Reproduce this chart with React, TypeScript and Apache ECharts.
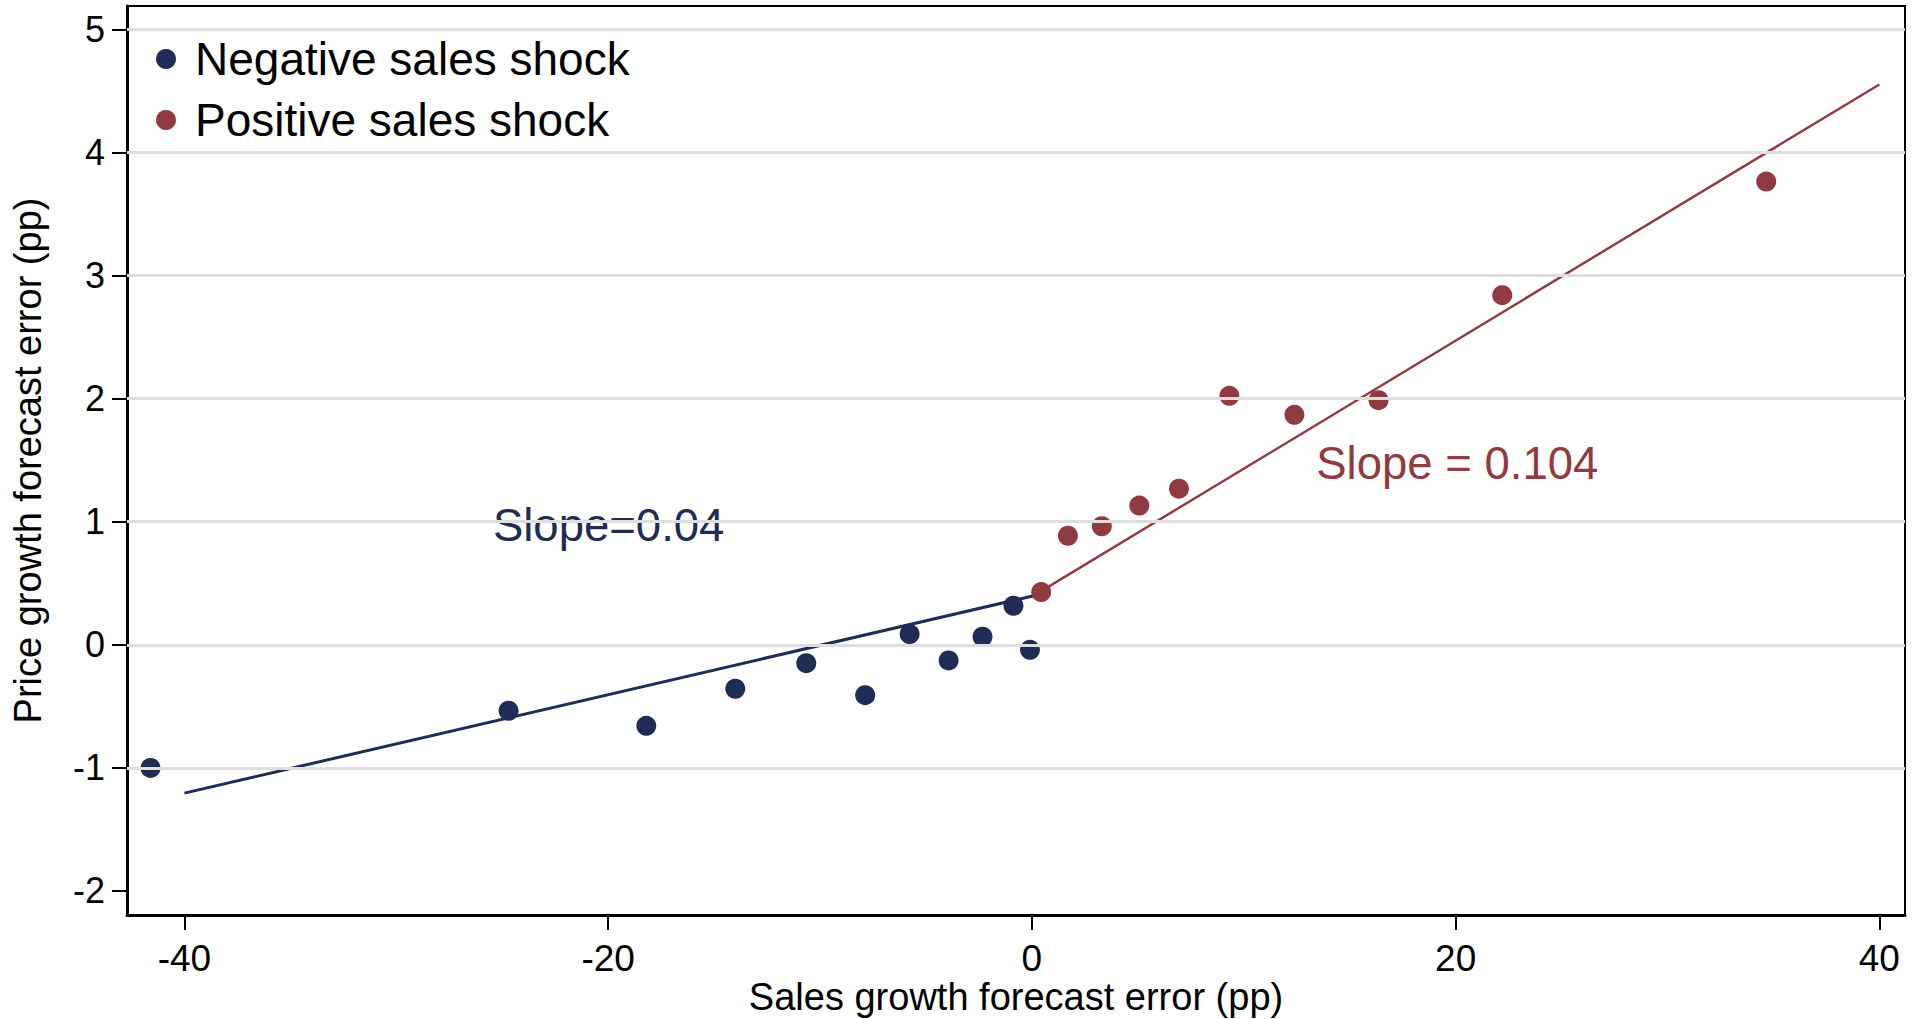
import React, { useEffect, useRef } from "react";
import * as echarts from "echarts";

// ---- data ----
const negX = [-41.6, -24.7, -18.2, -14.0, -10.65, -7.87, -5.77, -3.93, -2.33, -0.87, -0.09];
const negY = [-1.0, -0.536, -0.658, -0.357, -0.149, -0.409, 0.087, -0.127, 0.065, 0.317, -0.041];
const posX = [0.44, 1.7, 3.3, 5.07, 6.94, 9.32, 12.39, 16.36, 22.2, 34.66];
const posY = [0.428, 0.886, 0.963, 1.131, 1.268, 2.022, 1.868, 1.987, 2.84, 3.763];

const negFitX = [-40, 0.1];
const negFitY = [-1.205, 0.399];
const posFitX = [0.44, 40];
const posFitY = [0.436, 4.552];

const xTicks = [-40, -20, 0, 20, 40];
const yTicks = [-2, -1, 0, 1, 2, 3, 4, 5];
const gridValues = [-1, 0, 1, 2, 3, 4, 5];

const X_MIN = -42.71;
const X_MAX = 41.21;
const Y_MIN = -2.195;
const Y_MAX = 5.189;

const annotTexts = ["Slope=0.04", "Slope = 0.104"];
const annotX = [-25.44, 13.42];
const annotY = [0.97, 1.47];

const NAVY = "#1f2c56";
const RED = "#903a41";
const FONT = "'Liberation Sans', Arial, Helvetica, sans-serif";

export default function App() {
  const ref = useRef<HTMLDivElement>(null);

  useEffect(() => {
    document.body.style.margin = "0";
    const chart = echarts.init(ref.current as HTMLDivElement, undefined, { renderer: "svg" });

    const zip = (xs: number[], ys: number[]) => xs.map((x, i) => [x, ys[i]]);

    chart.setOption({
      animation: false,
      backgroundColor: "#ffffff",
      textStyle: { fontFamily: FONT },
      grid: {
        left: 127,
        right: 11,
        top: 6,
        bottom: 104,
        show: true,
        borderColor: "#000",
        borderWidth: 2,
        backgroundColor: "transparent",
        outerBoundsMode: "none",
        containLabel: false,
      },
      xAxis: {
        type: "value",
        min: X_MIN,
        max: X_MAX,
        axisLine: { show: true, onZero: false, lineStyle: { color: "#000", width: 3 } },
        axisTick: { show: true, length: 15, lineStyle: { color: "#000", width: 2 }, customValues: xTicks },
        axisLabel: { customValues: xTicks, fontSize: 37, lineHeight: 30, color: "#000", margin: 28.5, fontFamily: FONT },
        splitLine: { show: false },
        name: "Sales growth forecast error (pp)",
        nameLocation: "middle",
        nameGap: 65,
        nameMoveOverlap: false,
        nameTextStyle: { fontSize: 38, lineHeight: 34, color: "#000", fontFamily: FONT },
      },
      yAxis: {
        type: "value",
        min: Y_MIN,
        max: Y_MAX,
        axisLine: { show: true, onZero: false, lineStyle: { color: "#000", width: 3 } },
        axisTick: { show: true, length: 15, lineStyle: { color: "#000", width: 2 }, customValues: yTicks },
        axisLabel: { customValues: yTicks, fontSize: 36, color: "#000", margin: 22, fontFamily: FONT },
        splitLine: { show: false },
        name: "Price growth forecast error (pp)",
        nameLocation: "middle",
        nameRotate: 90,
        nameGap: 80,
        nameMoveOverlap: false,
        nameTextStyle: { fontSize: 38, lineHeight: 38, color: "#000", fontFamily: FONT },
      },
      legend: {
        data: ["Negative sales shock", "Positive sales shock"],
        orient: "vertical",
        left: 156,
        top: 36,
        padding: 0,
        itemGap: 15,
        itemWidth: 48,
        itemHeight: 20,
        icon: "circle",
        z: 10,
        textStyle: { fontSize: 46, color: "#000", fontFamily: FONT },
      },
      graphic: [
        {
          type: "rect",
          z: 5,
          silent: true,
          shape: { x: 138, y: 8, width: 524, height: 157 },
          style: { fill: "#ffffff" },
        },
      ],
      series: [
        {
          name: "grid",
          type: "scatter",
          data: [],
          z: 1,
          silent: true,
          markLine: {
            silent: true,
            symbol: "none",
            animation: false,
            label: { show: false },
            lineStyle: { color: "#dedede", width: 3, type: "solid" },
            emphasis: { disabled: true },
            data: gridValues.map((v) => ({ yAxis: v })),
          },
        },
        {
          name: "negFit",
          type: "line",
          data: zip(negFitX, negFitY),
          showSymbol: false,
          symbol: "none",
          z: 2,
          silent: true,
          lineStyle: { color: NAVY, width: 3 },
        },
        {
          name: "posFit",
          type: "line",
          data: zip(posFitX, posFitY),
          showSymbol: false,
          symbol: "none",
          z: 2,
          silent: true,
          lineStyle: { color: RED, width: 2.4 },
        },
        {
          name: "Negative sales shock",
          type: "scatter",
          data: zip(negX, negY),
          symbol: "circle",
          symbolSize: 20,
          z: 3,
          itemStyle: { color: NAVY, opacity: 1 },
        },
        {
          name: "Positive sales shock",
          type: "scatter",
          data: zip(posX, posY),
          symbol: "circle",
          symbolSize: 20,
          z: 3,
          itemStyle: { color: RED, opacity: 1 },
        },
        {
          name: "annotations",
          type: "scatter",
          symbolSize: 0,
          z: 4,
          silent: true,
          itemStyle: { opacity: 1 },
          data: annotTexts.map((t, i) => ({
            value: [annotX[i], annotY[i]],
            itemStyle: { opacity: 1 },
            label: {
              show: true,
              formatter: t,
              position: "right",
              distance: 0,
              fontSize: 45.5,
              fontFamily: FONT,
              opacity: 1,
              color: i === 0 ? NAVY : RED,
            },
          })),
        },
      ],
    });

    return () => chart.dispose();
  }, []);

  return <div ref={ref} style={{ width: 1916, height: 1019 }} />;
}
